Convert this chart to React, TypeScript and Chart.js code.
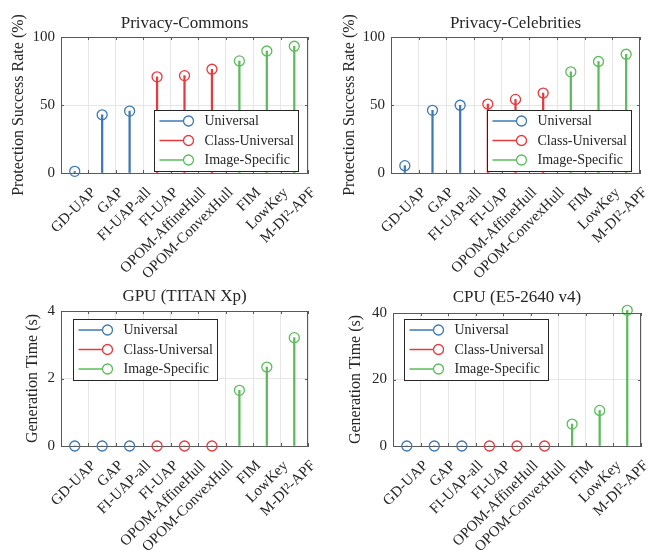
import React, { useEffect, useRef } from 'react';
import { Chart, registerables } from 'chart.js';

Chart.register(...registerables);

// ---------------- data ----------------
const categories = ['GD-UAP', 'GAP', 'FI-UAP-all', 'FI-UAP', 'OPOM-AffineHull', 'OPOM-ConvexHull', 'FIM', 'LowKey', 'M-DI²-APF'];
const groupNames = ['Universal', 'Class-Universal', 'Image-Specific'];
const groupMembers = [[0, 1, 2], [3, 4, 5], [6, 7, 8]];
const groupColors = ['#3d79b4', '#e8393d', '#5cbc5b'];

const commonsRate = [1.2, 42.8, 45.5, 70.7, 71.6, 76.3, 82.4, 89.7, 93.2];
const celebritiesRate = [5.4, 46.1, 49.8, 50.7, 54.1, 58.8, 74.4, 82.0, 87.3];
const gpuTime = [0, 0, 0, 0, 0, 0, 1.65, 2.34, 3.21];
const cpuTime = [0, 0, 0, 0, 0, 0, 6.6, 10.7, 40.8];

const rateTicks = [0, 50, 100];
const gpuTicks = [0, 2, 4];
const cpuTicks = [0, 20, 40];

const titles = ['Privacy-Commons', 'Privacy-Celebrities', 'GPU (TITAN Xp)', 'CPU (E5-2640 v4)'];
const yLabels = ['Protection Success Rate (%)', 'Protection Success Rate (%)', 'Generation Time (s)', 'Generation Time (s)'];

// ---------------- layout ----------------
const FONT = "'Liberation Serif', 'Times New Roman', serif";
const TEXT = '#262626';
const AXIS = '#595959';
const GRID = '#e6e6e6';

type Panel = {
  title: string; yLabel: string; values: number[]; ticks: number[];
  left: number; top: number; width: number; height: number;
  plotLeft: number; plotRight: number; plotTop: number; plotBottom: number;
  titleY: number; yTitleX: number;
  legend: { corner: 'br' | 'tl'; dx: number; dy: number };
};

const panels: Panel[] = [
  { title: titles[0], yLabel: yLabels[0], values: commonsRate, ticks: rateTicks,
    left: 0, top: 0, width: 326, height: 295, plotLeft: 61, plotRight: 308, plotTop: 37, plotBottom: 173,
    titleY: 23.6, yTitleX: 18.3, legend: { corner: 'br', dx: 10, dy: 2 } },
  { title: titles[1], yLabel: yLabels[1], values: celebritiesRate, ticks: rateTicks,
    left: 326, top: 0, width: 326, height: 295, plotLeft: 65, plotRight: 314, plotTop: 37, plotBottom: 173,
    titleY: 23.6, yTitleX: 23.3, legend: { corner: 'br', dx: 9, dy: 2 } },
  { title: titles[2], yLabel: yLabels[2], values: gpuTime, ticks: gpuTicks,
    left: 0, top: 270, width: 326, height: 280, plotLeft: 61, plotRight: 308, plotTop: 41, plotBottom: 176,
    titleY: 27, yTitleX: 32.5, legend: { corner: 'tl', dx: 12, dy: 8 } },
  { title: titles[3], yLabel: yLabels[3], values: cpuTime, ticks: cpuTicks,
    left: 326, top: 270, width: 326, height: 280, plotLeft: 67, plotRight: 315, plotTop: 43, plotBottom: 176,
    titleY: 27.5, yTitleX: 30, legend: { corner: 'tl', dx: 11, dy: 6 } },
];

// ---------------- plugins ----------------
const frameAndTicks = {
  id: 'frameAndTicks',
  afterDatasetsDraw(chart: any) {
    const { ctx, chartArea: a, scales } = chart;
    ctx.save();
    ctx.strokeStyle = AXIS;
    ctx.lineWidth = 1;
    ctx.beginPath();
    ctx.moveTo(a.left, a.top + 0.5);
    ctx.lineTo(a.right, a.top + 0.5);
    ctx.moveTo(a.right - 0.5, a.top);
    ctx.lineTo(a.right - 0.5, a.bottom);
    const xs = scales.x;
    for (let i = 0; i <= categories.length; i++) {
      const px = Math.round(xs.getPixelForValue(i - 0.5)) + 0.5;
      ctx.moveTo(px, a.bottom);
      ctx.lineTo(px, a.bottom - 3);
      ctx.moveTo(px, a.top);
      ctx.lineTo(px, a.top + 3);
    }
    const ys = scales.y;
    ys.ticks.forEach((t: any) => {
      const py = Math.round(ys.getPixelForValue(t.value)) + 0.5;
      ctx.moveTo(a.left, py);
      ctx.lineTo(a.left + 3, py);
      ctx.moveTo(a.right, py);
      ctx.lineTo(a.right - 3, py);
    });
    ctx.stroke();
    ctx.restore();
  },
};

const stemLegend = {
  id: 'stemLegend',
  afterDraw(chart: any, _args: any, opts: any) {
    const { ctx, chartArea: a } = chart;
    const items = chart.data.datasets.filter((d: any) => d.type === 'line');
    const w = 144, h = 61;
    const x = Math.round(opts.corner === 'br' ? a.right - opts.dx - w : a.left + opts.dx) + 0.5;
    const y = Math.round(opts.corner === 'br' ? a.bottom - opts.dy - h : a.top + opts.dy) + 0.5;
    ctx.save();
    ctx.fillStyle = '#ffffff';
    ctx.strokeStyle = TEXT;
    ctx.lineWidth = 1;
    ctx.fillRect(x, y, w, h);
    ctx.strokeRect(x, y, w, h);
    ctx.font = `14px ${FONT}`;
    ctx.textBaseline = 'middle';
    ctx.textAlign = 'left';
    items.forEach((d: any, i: number) => {
      const ry = y + 10.5 + i * 19.5;
      ctx.strokeStyle = d.borderColor;
      ctx.lineWidth = 1.5;
      ctx.beginPath();
      ctx.moveTo(x + 5, ry);
      ctx.lineTo(x + 29, ry);
      ctx.stroke();
      ctx.lineWidth = 1.3;
      ctx.beginPath();
      ctx.arc(x + 34, ry, 5, 0, Math.PI * 2);
      ctx.stroke();
      ctx.fillStyle = TEXT;
      ctx.fillText(d.label, x + 50, ry + 0.5);
    });
    ctx.restore();
  },
};

// ---------------- chart ----------------
function StemPanel({ p }: { p: Panel }) {
  const ref = useRef<HTMLCanvasElement | null>(null);
  useEffect(() => {
    if (!ref.current) return;
    const stems: any[] = [];
    const marks: any[] = [];
    groupNames.forEach((name, g) => {
      const data = categories.map((_, i) => (groupMembers[g].includes(i) ? p.values[i] : null));
      stems.push({
        type: 'bar', label: name + ' stem', data,
        backgroundColor: groupColors[g], borderWidth: 0,
        barThickness: 1.6, grouped: false, clip: false, order: 2,
      });
      marks.push({
        type: 'line', label: name, data,
        borderColor: groupColors[g], backgroundColor: 'rgba(0,0,0,0)',
        showLine: false, pointRadius: 5, pointBorderWidth: 1.3,
        pointBackgroundColor: 'rgba(0,0,0,0)', pointBorderColor: groupColors[g],
        clip: false, order: 1,
      });
    });
    const titleSize = 17, titleLH = titleSize * 1.2;
    const padTop = p.titleY - titleLH / 2;
    const padBottom = p.plotTop - padTop - titleLH;
    const yTitleSize = 16, yTitleLH = yTitleSize * 1.2;
    const chart = new Chart(ref.current, {
      type: 'bar',
      data: { labels: categories, datasets: [...stems, ...marks] },
      plugins: [frameAndTicks, stemLegend],
      options: {
        animation: false,
        responsive: false,
        devicePixelRatio: 1,
        layout: { padding: { left: 0, top: 0, bottom: 0, right: p.width - p.plotRight } },
        plugins: {
          legend: { display: false },
          tooltip: { enabled: false },
          title: {
            display: true, text: p.title, color: TEXT, fullSize: false,
            font: { family: FONT, size: titleSize, weight: 'normal', lineHeight: 1.2 },
            padding: { top: padTop, bottom: padBottom },
          },
          stemLegend: p.legend,
        } as any,
        scales: {
          x: {
            type: 'category',
            offset: true,
            grid: { display: true, offset: true, color: GRID, drawTicks: false },
            border: { display: true, color: AXIS, width: 1 },
            ticks: {
              autoSkip: false, minRotation: 45, maxRotation: 45, padding: 11, labelOffset: 19,
              color: TEXT, font: { family: FONT, size: 15 },
            },
            afterFit: (s: any) => { s.height = p.height - p.plotBottom; },
          },
          y: {
            min: p.ticks[0], max: p.ticks[p.ticks.length - 1],
            afterBuildTicks: (s: any) => { s.ticks = p.ticks.map((v) => ({ value: v })); },
            grid: { color: GRID, drawTicks: false },
            border: { display: true, color: AXIS, width: 1 },
            ticks: { padding: 6, color: TEXT, font: { family: FONT, size: 15 } },
            title: {
              display: true, text: p.yLabel, color: TEXT,
              font: { family: FONT, size: yTitleSize, lineHeight: 1.2 },
              padding: p.yTitleX - yTitleLH / 2,
            },
            afterFit: (s: any) => { s.width = p.plotLeft; },
          },
        },
      } as any,
    });
    return () => chart.destroy();
  }, [p]);
  return (
    <canvas
      ref={ref}
      width={p.width}
      height={p.height}
      style={{ position: 'absolute', left: p.left, top: p.top, width: p.width, height: p.height }}
    />
  );
}

export default function App() {
  return (
    <div style={{ position: 'fixed', left: 0, top: 0, width: 652, height: 550, background: '#ffffff' }}>
      {panels.map((p) => (
        <StemPanel key={p.title} p={p} />
      ))}
    </div>
  );
}
